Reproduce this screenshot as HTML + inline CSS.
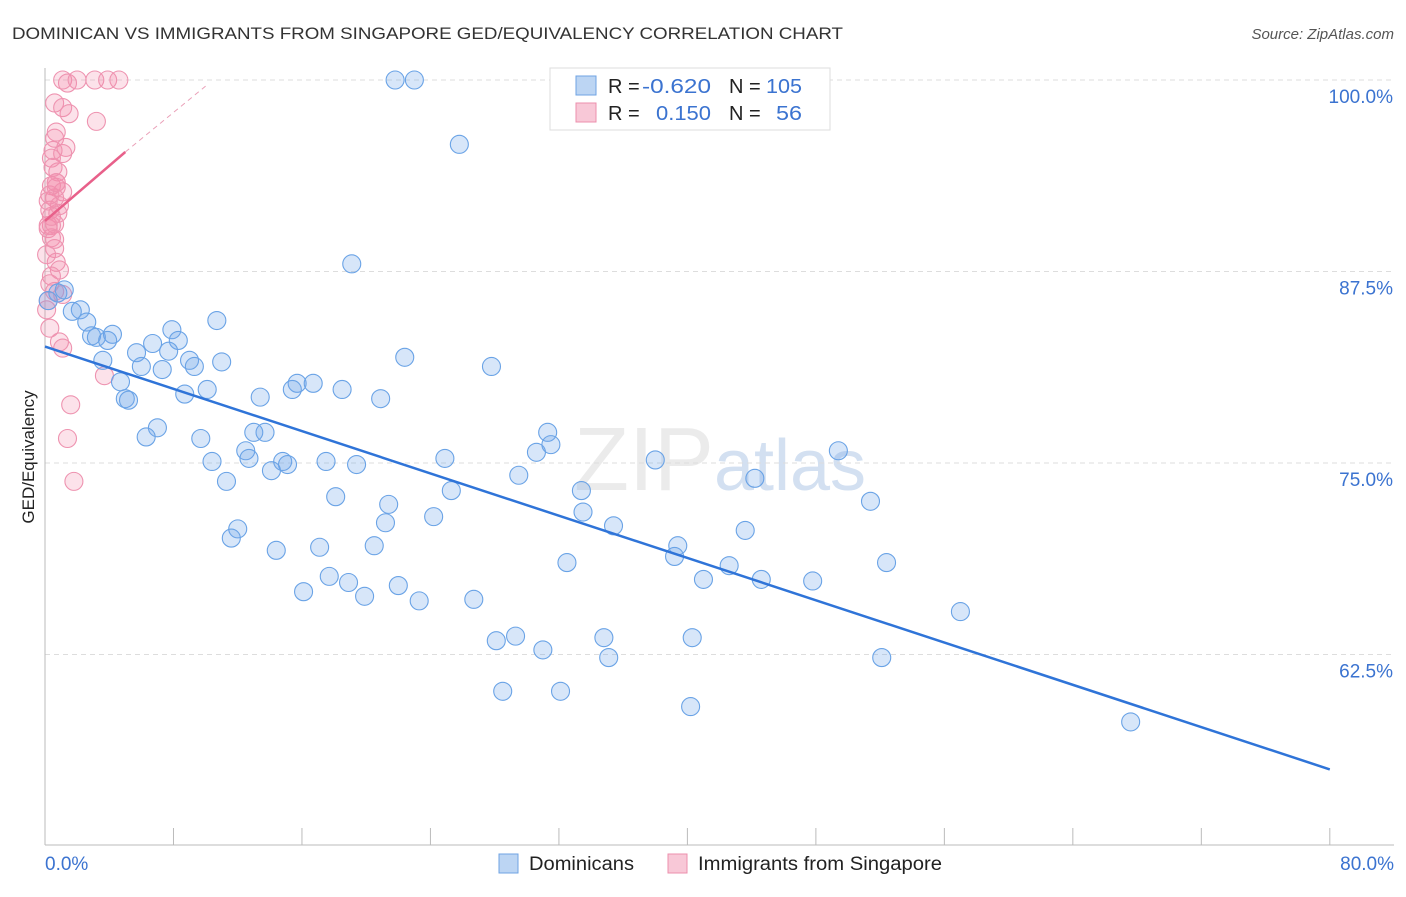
<!DOCTYPE html>
<html><head><meta charset="utf-8"><style>
body{margin:0;background:#fff;font-family:"Liberation Sans",sans-serif;}
svg text{font-family:"Liberation Sans",sans-serif;}
</style></head><body>
<svg id="chart" width="1406" height="892" xmlns="http://www.w3.org/2000/svg">
<text x="12" y="39" font-size="17" fill="#333" textLength="831" lengthAdjust="spacingAndGlyphs">DOMINICAN VS IMMIGRANTS FROM SINGAPORE GED/EQUIVALENCY CORRELATION CHART</text>
<text x="1394" y="39" font-size="15" fill="#555" font-style="italic" text-anchor="end">Source: ZipAtlas.com</text>
<text x="720" y="490" font-size="90" fill="#ebebeb" text-anchor="middle" font-family="Liberation Serif">ZIP<tspan fill="#d3e0f1" font-family="Liberation Sans" font-size="72">atlas</tspan></text>
<g id="grid"></g>
<g id="axes"></g>
<g id="marks"></g>
<g id="lines"></g>
<text transform="translate(34,457) rotate(-90)" font-size="17" fill="#222" text-anchor="middle">GED/Equivalency</text>
<text x="45" y="870" font-size="19" fill="#3b73d0">0.0%</text>
<text x="1394" y="870" font-size="19" fill="#3b73d0" text-anchor="end">80.0%</text>
<g>
<rect x="499" y="854" width="19" height="19" fill="#bcd5f3" stroke="#6fa3e3"/>
<text x="529" y="870" font-size="19" fill="#222" textLength="105" lengthAdjust="spacingAndGlyphs">Dominicans</text>
<rect x="668" y="854" width="19" height="19" fill="#f8c8d7" stroke="#ec8fac"/>
<text x="698" y="870" font-size="19" fill="#222" textLength="244" lengthAdjust="spacingAndGlyphs">Immigrants from Singapore</text>
</g>
<g>
<rect x="550" y="68" width="280" height="62" fill="#fff" stroke="#ddd"/>
<rect x="576" y="76" width="20" height="19" fill="#bcd5f3" stroke="#6fa3e3"/>
<rect x="576" y="103" width="20" height="19" fill="#f8c8d7" stroke="#ec8fac"/>
<text y="93" font-size="20"><tspan x="608" fill="#222">R =</tspan><tspan x="642" fill="#3b73d0" textLength="69" lengthAdjust="spacingAndGlyphs">-0.620</tspan><tspan x="729" fill="#222">N =</tspan><tspan x="766" fill="#3b73d0" textLength="36" lengthAdjust="spacingAndGlyphs">105</tspan></text>
<text y="120" font-size="20"><tspan x="608" fill="#222">R =</tspan><tspan x="656" fill="#3b73d0" textLength="55" lengthAdjust="spacingAndGlyphs">0.150</tspan><tspan x="729" fill="#222">N =</tspan><tspan x="776" fill="#3b73d0" textLength="26" lengthAdjust="spacingAndGlyphs">56</tspan></text>
</g>
</svg>
<script>
const yTicks=[100,87.5,75,62.5];
const yTickLabels=["100.0%","87.5%","75.0%","62.5%"];
const xTicks=[8,16,24,32,40,48,56,64,72,80];
const blueX=[21.8,23.0,25.8,19.1,1.2,0.8,0.2,2.2,1.7,2.6,2.9,3.2,4.2,3.9,10.7,7.9,6.7,8.3,5.7,7.7,22.4,3.6,6.0,7.3,9.0,9.3,11.0,27.8,4.7,15.7,16.7,15.4,18.5,8.7,10.1,5.0,5.2,13.4,20.9,7.0,6.3,9.7,13.7,13.0,31.3,31.5,30.6,12.5,12.7,24.9,38.0,49.4,10.4,14.8,15.1,17.5,19.4,14.1,29.5,44.2,11.3,25.3,18.1,33.4,21.4,51.4,33.5,24.2,35.4,21.2,43.6,12.0,11.6,17.1,20.5,14.4,32.5,39.4,39.2,42.6,52.4,17.7,41.0,44.6,47.8,18.9,22.0,16.1,19.9,23.3,26.7,57.0,29.3,28.1,34.8,40.3,31.0,35.1,52.1,28.5,32.1,40.2,67.6];
const blueY=[100,100,95.8,88.0,86.3,86.1,85.6,85.0,84.9,84.2,83.3,83.2,83.4,83.0,84.3,83.7,82.8,83.0,82.2,82.3,81.9,81.7,81.3,81.1,81.7,81.3,81.6,81.3,80.3,80.2,80.2,79.8,79.8,79.5,79.8,79.2,79.1,79.3,79.2,77.3,76.7,76.6,77.0,77.0,77.0,76.2,75.7,75.8,75.3,75.3,75.2,75.8,75.1,75.1,74.9,75.1,74.9,74.5,74.2,74.0,73.8,73.2,72.8,73.2,72.3,72.5,71.8,71.5,70.9,71.1,70.6,70.7,70.1,69.5,69.6,69.3,68.5,69.6,68.9,68.3,68.5,67.6,67.4,67.4,67.3,67.2,67.0,66.6,66.3,66.0,66.1,65.3,63.7,63.4,63.6,63.6,62.8,62.3,62.3,60.1,60.1,59.1,58.1];
const pinkX=[1.1,1.4,2.0,3.1,3.9,4.6,0.6,1.1,1.5,3.2,0.7,0.6,1.3,0.5,1.1,0.4,0.8,0.4,0.7,1.1,0.6,0.9,0.3,0.8,0.4,0.2,0.6,0.4,0.6,0.7,0.9,0.4,0.3,0.6,1.1,0.1,0.3,0.9,1.1,3.7,1.6,1.4,1.8,0.2,0.3,0.5,0.7,0.1,0.2,0.6,0.4,0.2,0.7];
const pinkY=[100,99.8,100,100,100,100,98.5,98.2,97.8,97.3,96.6,96.2,95.6,95.4,95.2,94.9,94.0,93.1,93.0,92.7,92.3,91.8,91.5,91.3,90.5,90.3,90.6,89.7,89.0,88.1,87.6,87.2,86.7,86.2,86.0,85.0,83.8,82.9,82.5,80.7,78.8,76.6,73.8,90.5,92.5,94.3,93.3,88.6,85.6,89.6,91.1,92.1,93.3];
const blueTrend=[[0,82.6],[80,55.0]];
const pinkTrend=[[0,90.8],[5,95.3]];
const pinkTrendExt=[[5,95.3],[10,99.6]];
const NS="http://www.w3.org/2000/svg";
const sx=v=>45+v*16.06, sy=v=>80+(100-v)*15.32;
function mk(tag,attrs,parent){const e=document.createElementNS(NS,tag);for(const k in attrs)e.setAttribute(k,attrs[k]);parent.appendChild(e);return e;}
const grid=document.getElementById('grid'),axes=document.getElementById('axes'),marks=document.getElementById('marks'),lines=document.getElementById('lines');
yTicks.forEach((t,i)=>{
 const l=mk('line',{x1:45,x2:1394,y1:sy(t),y2:sy(t),stroke:'#ddd','stroke-dasharray':'5,4'},grid);
 
 
 const tx=mk('text',{x:1393,y:sy(t)+23,'font-size':19,fill:'#3b73d0','text-anchor':'end'},grid);
 tx.textContent=yTickLabels[i];
 
 
});
const ya=mk('line',{x1:45,x2:45,y1:68,y2:845,stroke:'#bbb'},axes);


const xa=mk('line',{x1:45,x2:1394,y1:845,y2:845,stroke:'#bbb'},axes);


xTicks.forEach(t=>{
 const l=mk('line',{x1:sx(t),x2:sx(t),y1:828,y2:845,stroke:'#bbb'},axes);
 
 
});
pinkX.forEach((x,i)=>{
 const c=mk('circle',{cx:sx(x),cy:sy(pinkY[i]),r:9,fill:'rgba(242,140,170,0.25)',stroke:'#ee93b0','stroke-width':1.1},marks);
 
 
});
blueX.forEach((x,i)=>{
 const c=mk('circle',{cx:sx(x),cy:sy(blueY[i]),r:9,fill:'rgba(110,165,235,0.28)',stroke:'#6aa3e6','stroke-width':1.1},marks);
 
 
});
const bl=mk('line',{x1:sx(blueTrend[0][0]),y1:sy(blueTrend[0][1]),x2:sx(blueTrend[1][0]),y2:sy(blueTrend[1][1]),stroke:'#2f74d8','stroke-width':2.5},lines);


const pl=mk('line',{x1:sx(pinkTrend[0][0]),y1:sy(pinkTrend[0][1]),x2:sx(pinkTrend[1][0]),y2:sy(pinkTrend[1][1]),stroke:'#e8608a','stroke-width':2.5},lines);


const pe=mk('line',{x1:sx(pinkTrendExt[0][0]),y1:sy(pinkTrendExt[0][1]),x2:sx(pinkTrendExt[1][0]),y2:sy(pinkTrendExt[1][1]),stroke:'#eaa0b8','stroke-width':1,'stroke-dasharray':'5,4'},lines);


</script>
</body></html>
